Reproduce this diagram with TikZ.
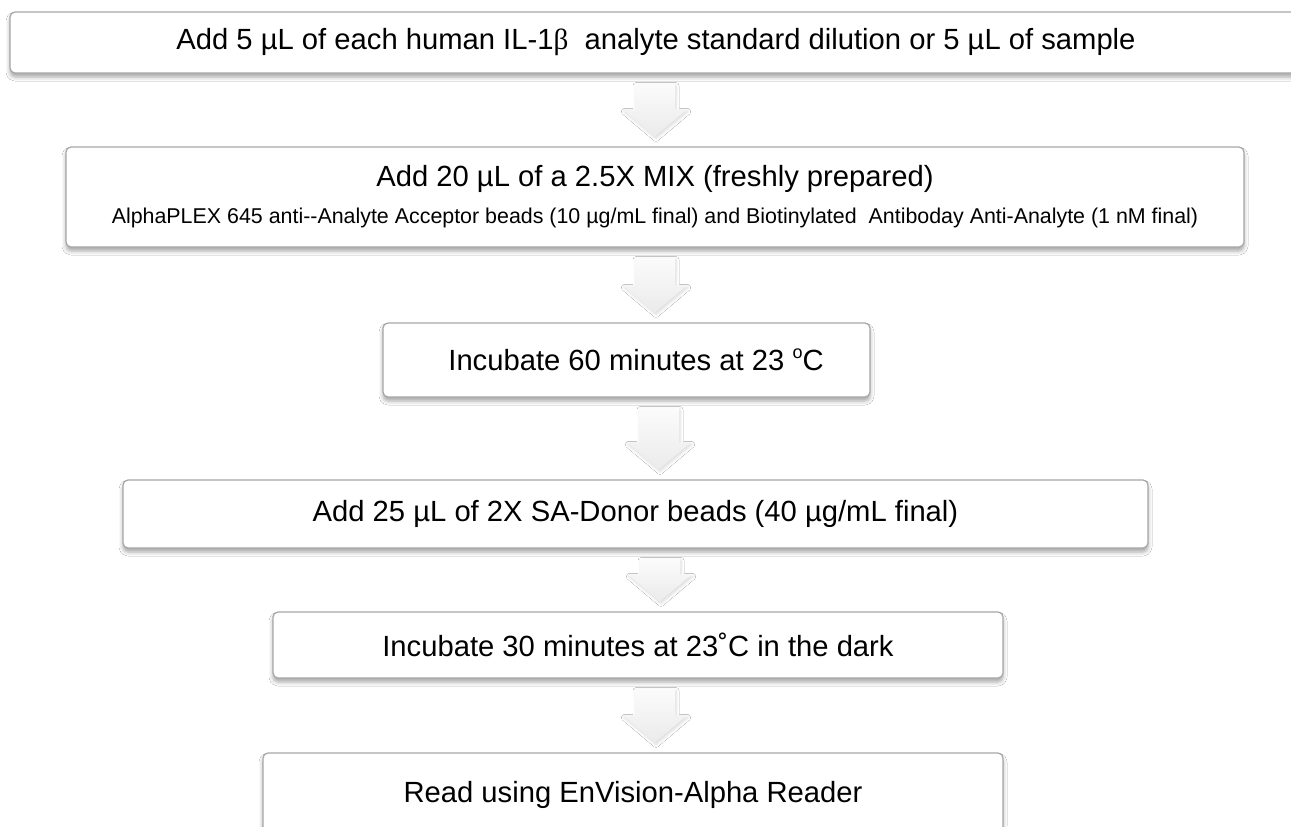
\documentclass[tikz,border=0pt]{standalone}
\usepackage{fontspec}
\setmainfont{Liberation Sans}
\newfontfamily\greekfont{Liberation Serif}
\usetikzlibrary{calc}
\usetikzlibrary{shadows.blur}
\tikzset{stepbox/.style = {draw=gray!70, fill=white, rounded corners=2.5pt,
line width=0.6pt, inner sep=0pt, align=center,
font=\fontsize{14.6}{18.5}\selectfont,
blur shadow={shadow xshift=0pt, shadow yshift=-2pt,
shadow blur radius=2pt, shadow opacity=35}}}
\tikzset{flowarrow/.style = {top color=gray!3, bottom color=gray!16,
blur shadow={shadow xshift=0.5pt, shadow yshift=-1pt,
shadow blur radius=1.5pt, shadow opacity=15}}}
% block arrow at x = #1 from box #2 down to box #3
\newcommand{\flowdown}[3]{%
  \path ($(#2.south -| #1,0)+(0,10)$) coordinate (ft)
        ($(#3.north -| #1,0)+(0,-10)$) coordinate (fb);
  \path[flowarrow] ($(ft)+(-20,0)$) -- ($(ft)+(20,0)$) -- ($(fb)+(20,-27)$)
    -- ($(fb)+(32,-27)$) -- (fb) -- ($(fb)+(-32,-27)$) -- ($(fb)+(-20,-27)$) -- cycle;
}
\newcommand{\supo}{\raisebox{0.75ex}{\fontsize{9}{9}\selectfont o}}

\begin{document}
\begin{tikzpicture}[x=0.5pt, y=-0.5pt]
                \clip (0,0) rectangle (1291,826);
                \fill[white] (0,0) rectangle (1291,826);

                \node[stepbox, minimum width=646pt, minimum height=30.5pt] (s1) at (656,42.5)
                  {Add 5 µL of each human IL-1{\greekfont β}\ \ analyte standard dilution or 5 µL of sample};
                \node[stepbox, minimum width=589pt, minimum height=50pt] (s2) at (655,197)
                  {Add 20 µL of a 2.5X MIX (freshly prepared)\\
                   {\fontsize{10.7}{18.5}\selectfont AlphaPLEX 645 anti-{}-Analyte Acceptor beads (10 µg/mL final) and Biotinylated\ \ Antiboday Anti-Analyte (1 nM final)}};
                \node[stepbox, minimum width=243.5pt, minimum height=37pt] (s3) at (626.5,360)
                  {\hspace*{9.5pt}Incubate 60 minutes at 23 \supo C};
                \node[stepbox, minimum width=512.5pt, minimum height=34pt] (s4) at (635.5,514)
                  {Add 25 µL of 2X SA-Donor beads (40 µg/mL final)};
                \node[stepbox, minimum width=365pt, minimum height=33pt] (s5) at (638,645)
                  {Incubate 30 minutes at 23˚C in the dark};
                \node[stepbox, minimum width=370pt, minimum height=42pt] (s6) at (633,795)
                  {Read using EnVision-Alpha Reader};

                \flowdown{655}{s1}{s2}
                \flowdown{655}{s2}{s3}
                \flowdown{659}{s3}{s4}
                \flowdown{660}{s4}{s5}
                \flowdown{655}{s5}{s6}
            \end{tikzpicture}
\end{document}
